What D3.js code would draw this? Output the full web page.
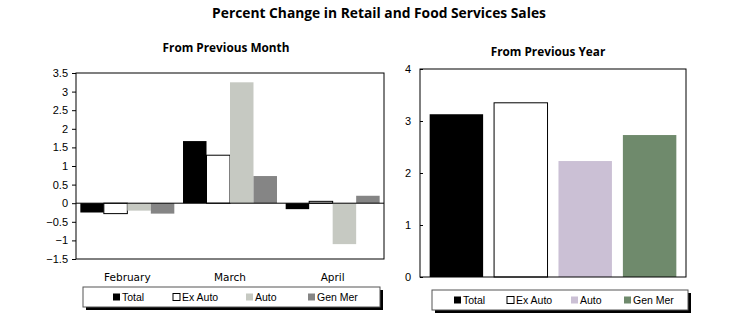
<!DOCTYPE html>
<html lang="en">
<head>
	<meta charset="utf-8">
	<title>Retail Sales</title>
	<script type="text/javascript" src="https://cdn.jsdelivr.net/npm/d3@7"></script>
	<style>
		body { margin: 0; background: white; }
		.tick text { font-family: Arial, "Liberation Sans", sans-serif; font-size: 11px; fill: #000; }
		.legend text { font-family: Arial, "Liberation Sans", sans-serif; font-size: 10.5px; }
	</style>
</head>
<body>
	<script type="text/javascript">
		var w = 755;
		var h = 325;

		// data
		var months = ["February", "March", "April"];
		var series = ["Total", "Ex Auto", "Auto", "Gen Mer"];
		var monthTotal = [-0.25, 1.67, -0.16];
		var monthExAuto = [-0.28, 1.29, 0.05];
		var monthAuto = [-0.2, 3.25, -1.1];
		var monthGenMer = [-0.28, 0.73, 0.2];
		var yearValues = [3.13, 3.35, 2.23, 2.73];
		var monthTicks = [-1.5, -1, -0.5, 0, 0.5, 1, 1.5, 2, 2.5, 3, 3.5];
		var yearTicks = [0, 1, 2, 3, 4];

		var leftFill = ["#000000", "#ffffff", "#c6c9c2", "#858585"];
		var rightFill = ["#000000", "#ffffff", "#cbc0d5", "#6f8a6c"];

		var svg = d3.select("body")
					.append("svg")
					.attr("width", w)
					.attr("height", h);

		// titles
		svg.append("text")
		   .attr("x", 379).attr("y", 18)
		   .attr("text-anchor", "middle")
		   .style("font-family", "'Open Sans', sans-serif")
		   .style("font-weight", "bold")
		   .style("font-size", "13.8px")
		   .text("Percent Change in Retail and Food Services Sales");

		svg.append("text")
		   .attr("x", 226).attr("y", 52)
		   .attr("text-anchor", "middle")
		   .style("font-family", "'Open Sans', sans-serif")
		   .style("font-weight", "bold")
		   .style("font-size", "11.8px")
		   .text("From Previous Month");

		svg.append("text")
		   .attr("x", 548).attr("y", 56)
		   .attr("text-anchor", "middle")
		   .style("font-family", "'Open Sans', sans-serif")
		   .style("font-weight", "bold")
		   .style("font-size", "11.8px")
		   .text("From Previous Year");

		// ---- left chart: from previous month ----
		var lx = d3.scaleBand().domain(months).range([76, 384]);
		var lxInner = d3.scaleBand().domain(series).range([0, lx.bandwidth()]).paddingOuter(0.185);
		var ly = d3.scaleLinear().domain([-1.5, 3.5]).range([259, 73]);

		var monthRows = months.map(function(m, i) {
			return { month: m, values: [monthTotal[i], monthExAuto[i], monthAuto[i], monthGenMer[i]] };
		});

		var left = svg.append("g");

		left.selectAll("g.group")
			.data(monthRows)
			.enter()
			.append("g")
			.attr("class", "group")
			.attr("transform", function(d) { return "translate(" + lx(d.month) + ",0)"; })
			.selectAll("rect")
			.data(function(d) { return d.values.map(function(v, j) { return { s: series[j], v: v, j: j }; }); })
			.enter()
			.append("rect")
			.attr("x", function(d) { return lxInner(d.s); })
			.attr("y", function(d) { return ly(Math.max(0, d.v)); })
			.attr("width", lxInner.bandwidth())
			.attr("height", function(d) { return Math.abs(ly(d.v) - ly(0)); })
			.attr("fill", function(d) { return leftFill[d.j]; })
			.attr("stroke", function(d) { return d.j == 1 ? "#000" : "none"; })
			.attr("stroke-width", 1);

		// plot frame
		left.append("rect")
			.attr("x", 76).attr("y", 73)
			.attr("width", 308).attr("height", 186)
			.attr("fill", "none").attr("stroke", "#000");

		// zero line
		left.append("line")
			.attr("x1", 76).attr("x2", 384)
			.attr("y1", ly(0)).attr("y2", ly(0))
			.attr("stroke", "#000");

		var lAxis = left.append("g")
						.attr("transform", "translate(76,0)")
						.call(d3.axisLeft(ly).tickValues(monthTicks).tickSize(4).tickPadding(4).tickFormat(d3.format("")));
		lAxis.select(".domain").remove();

		left.selectAll("text.month")
			.data(months)
			.enter()
			.append("text")
			.attr("class", "month")
			.attr("x", function(d) { return lx(d) + lx.bandwidth() / 2; })
			.attr("y", 281)
			.attr("text-anchor", "middle")
			.style("font-family", "'DejaVu Sans', Verdana, sans-serif")
			.style("font-size", "10.5px")
			.text(function(d) { return d; });

		// ---- right chart: from previous year ----
		var rx = d3.scaleBand().domain(series).range([420, 686]).paddingInner(0.17).paddingOuter(0.15);
		var ry = d3.scaleLinear().domain([0, 4]).range([277, 69]);

		var right = svg.append("g");

		right.selectAll("rect.bar")
			 .data(yearValues)
			 .enter()
			 .append("rect")
			 .attr("class", "bar")
			 .attr("x", function(d, i) { return rx(series[i]); })
			 .attr("y", function(d) { return ry(d); })
			 .attr("width", rx.bandwidth())
			 .attr("height", function(d) { return ry(0) - ry(d); })
			 .attr("fill", function(d, i) { return rightFill[i]; })
			 .attr("stroke", function(d, i) { return i == 1 ? "#000" : "none"; });

		right.append("rect")
			 .attr("x", 420).attr("y", 69)
			 .attr("width", 266).attr("height", 208)
			 .attr("fill", "none").attr("stroke", "#000");

		var rAxis = right.append("g")
						 .attr("transform", "translate(420,0)")
						 .call(d3.axisLeft(ry).tickValues(yearTicks).tickSize(4).tickPadding(5).tickFormat(d3.format("d")));
		rAxis.select(".domain").remove();
		rAxis.selectAll(".tick line").attr("x2", 3);

		// ---- legends ----
		var drawLegend = function(x, y, width, fills, itemX) {
			var g = svg.append("g").attr("class", "legend");
			g.append("rect")
			 .attr("x", x + 3).attr("y", y + 3)
			 .attr("width", width).attr("height", 20)
			 .attr("fill", "#000");
			g.append("rect")
			 .attr("x", x).attr("y", y)
			 .attr("width", width).attr("height", 20)
			 .attr("fill", "#fff").attr("stroke", "#555");

			var items = g.selectAll("g.item")
						 .data(series)
						 .enter()
						 .append("g")
						 .attr("class", "item")
						 .attr("transform", function(d, i) { return "translate(" + itemX[i] + "," + (y + 10) + ")"; });
			items.append("rect")
				 .attr("x", 0).attr("y", -3.5)
				 .attr("width", 7).attr("height", 7)
				 .attr("fill", function(d, i) { return fills[i]; })
				 .attr("stroke", function(d, i) { return i == 1 ? "#000" : "none"; });
			items.append("text")
				 .attr("x", 9).attr("y", 4)
				 .text(function(d) { return d; });
		};

		drawLegend(83, 287, 297, leftFill, [113, 173, 246, 308]);
		drawLegend(432, 290, 256, rightFill, [454, 507, 571, 624]);
	</script>
</body>
</html>
